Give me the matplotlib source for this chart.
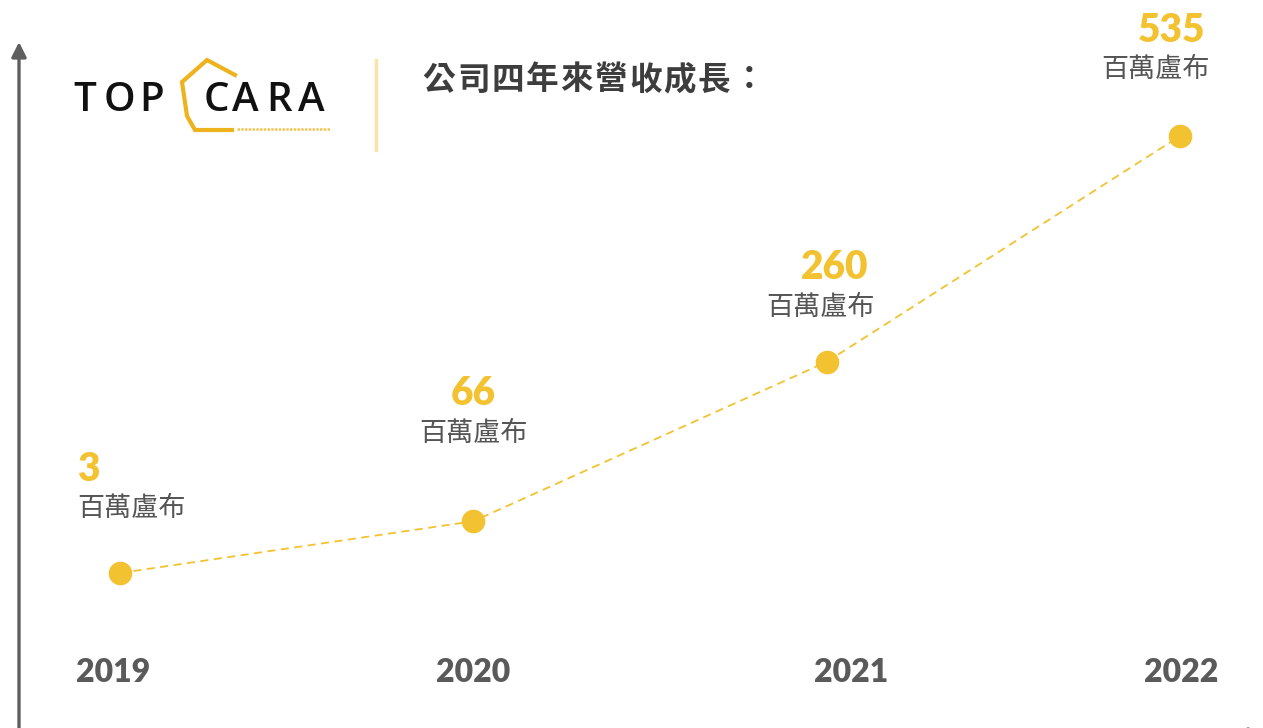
import matplotlib.pyplot as plt

# data
years = [2019, 2020, 2021, 2022]
revenue = [3, 66, 260, 535]
unit_label = "百萬盧布"
title = "公司四年來營收成長："

# label offsets (pixels) relative to each point: value number, unit text
value_offsets = [(-43, 104), (0, 128), (8, 94), (-8, 106)]
unit_offsets = [(-43, 65), (0, 88), (-6, 54), (-24, 67)]
year_offsets = [-7, 0, 24, 1]

W, H = 1263, 728
YELLOW = "#F2C230"
GRAY = "#555555"
CJK = ["Noto Sans CJK TC", "DejaVu Sans"]

fig = plt.figure(figsize=(W / 100, H / 100), dpi=100)

# decoration layer in pixel coordinates (logo, separator, axis arrows)
deco = fig.add_axes([0, 0, 1, 1])
deco.set_xlim(0, W)
deco.set_ylim(H, 0)
deco.axis("off")

arrow = dict(arrowstyle="-|>", lw=2.4, color="#5f5f5f",
             mutation_scale=22, shrinkA=0, shrinkB=0)
deco.annotate("", xy=(19, 42), xytext=(19, H + 5), arrowprops=arrow)
deco.annotate("", xy=(1264, H + 7), xytext=(19, H + 7), arrowprops=arrow,
              annotation_clip=False)

# logo, letters placed like the original wordmark
for ch, cx in zip("TOPCARA", [85, 119, 152, 216, 245, 279, 311]):
    deco.text(cx, 101, ch, fontsize=29, family="Open Sans", weight="semibold",
              color="#111111", ha="center", va="center")
house_x = [235, 207, 182, 187, 195, 232]
house_y = [75, 60, 82, 116, 130, 130]
deco.plot(house_x, house_y, color="#EDB21E", lw=3.0, solid_joinstyle="miter")
deco.plot([237, 330], [129, 129], color="#EDB21E", lw=1.8,
          ls=(0, (1.0, 0.5)), alpha=0.75)

# separator
deco.plot([376, 376], [60, 150], color="#FCE3A2", lw=2.4)

# title, spaced characters
for i, ch in enumerate(title):
    deco.text(439 + 34.4 * i, 80, ch, fontsize=23.5, weight="bold", family=CJK,
              color="#3d3d3d", ha="center", va="center")

# data layer
ax = fig.add_axes([0, 0, 1, 1])
ax.patch.set_alpha(0)
ax.axis("off")
ax.set_xlim(2018.6604, 2022.235)
ax.set_ylim(-185.7, 700.6)

ax.plot(years, revenue, color=YELLOW, lw=1.3, ls=(0, (4.5, 3)), zorder=1)
ax.plot(years, revenue, "o", ms=17, color=YELLOW, mec="none", zorder=2)

for i, (yr, v) in enumerate(zip(years, revenue)):
    ha = "left" if i == 0 else "center"
    ax.annotate(str(v), (yr, v), xytext=value_offsets[i], textcoords="offset pixels",
                fontsize=28, family="Lato", weight="heavy", color=YELLOW,
                ha=ha, va="center")
    ax.annotate(unit_label, (yr, v), xytext=unit_offsets[i], textcoords="offset pixels",
                fontsize=19.5, family=CJK, color=GRAY, ha=ha, va="center")
    ax.annotate(str(yr), (yr, 0), xycoords=("data", "figure pixels"),
                xytext=(year_offsets[i], H - 672),
                textcoords=("offset pixels", "figure pixels"),
                fontsize=23, family="Lato", weight="heavy", color="#5a5a5a",
                ha="center", va="center")

fig.savefig("out.png", dpi=100)
